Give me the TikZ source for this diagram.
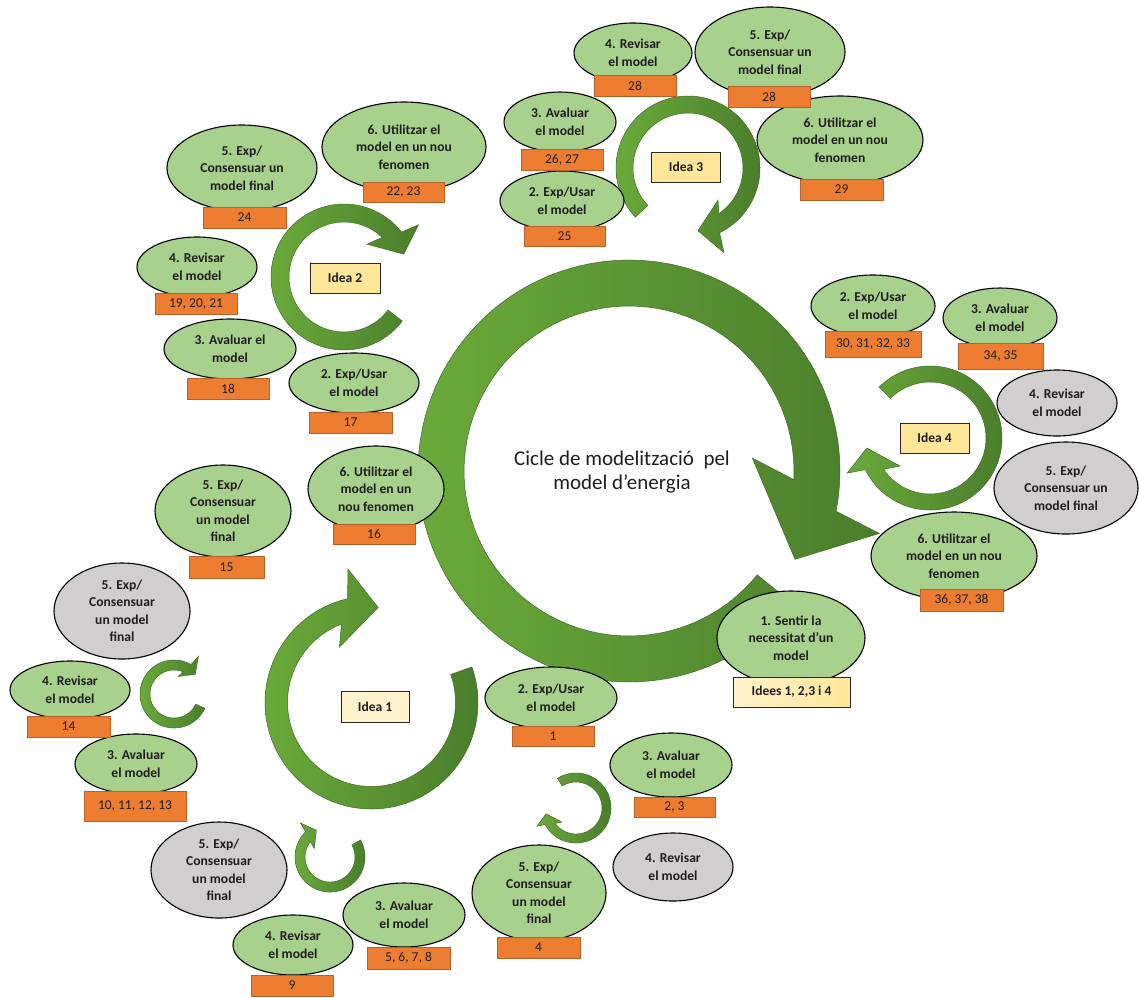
\documentclass[tikz,border=0pt]{standalone}
\usepackage{fontspec}
\setmainfont{Carlito}
\usetikzlibrary{shapes.geometric}
\definecolor{ellgreen}{HTML}{A9D18E}
\definecolor{ellgray}{HTML}{D0CECE}
\definecolor{orangebox}{HTML}{ED7D31}
\definecolor{orangeedge}{HTML}{B5622A}
\definecolor{ideayellow}{HTML}{FFE699}
\definecolor{idealight}{HTML}{FFF2CC}
\definecolor{ringlight}{HTML}{6AAA3A}
\definecolor{ringdark}{HTML}{4A7E2C}
\definecolor{ringedge}{HTML}{3E6A24}
\definecolor{txt}{HTML}{1E1E1E}
% #1 cx, #2 cy, #3 r inner, #4 r outer, #5 tail angle, #6 inner-wing angle, #7 inner wing depth, #8 outer wing extension
\newcommand{\ringarrow}[8]{%
  \path[ringfill] plot[domain=#5:#6+17,samples=90] ({#1+#4*cos(\x)},{#2+#4*sin(\x)})
   -- ({#1+(#4+#8)*cos(#6+20)},{#2+(#4+#8)*sin(#6+20)})
   -- ({#1+(#3+#4)/2*cos(#6+34)},{#2+(#3+#4)/2*sin(#6+34)})
   -- ({#1+(#3-#7)*cos(#6)},{#2+(#3-#7)*sin(#6)})
   -- plot[domain=#6+9:#5,samples=90] ({#1+#3*cos(\x)},{#2+#3*sin(\x)}) -- cycle;}
\begin{document}
\begin{tikzpicture}[x=1pt,y=-1pt,
  ringfill/.style={draw=ringedge,line width=0.5pt,left color=ringlight,right color=ringdark},
  gell/.style={ellipse,draw=black,line width=1.1pt,fill=ellgreen,inner sep=0pt,outer sep=0pt,align=center,text=txt,
    font=\bfseries\fontsize{13.6}{17.5}\selectfont},
  grell/.style={gell,fill=ellgray},
  obox/.style={rectangle,draw=orangeedge,line width=0.8pt,fill=orangebox,inner sep=0pt,text=txt,
    font=\fontsize{13.5}{15}\selectfont},
  ideabox/.style={rectangle,draw=black!85,line width=1pt,fill=ideayellow,inner sep=0pt,text=txt,
    font=\bfseries\fontsize{13.5}{15}\selectfont}]
\useasboundingbox (0,0) rectangle (1139,997);
\fill[white] (0,0) rectangle (1139,997);

% ---------- circular arrows ----------
\ringarrow{629}{471}{165}{211}{39}{354}{41}{47}
\ringarrow{344}{277}{55}{73}{37}{305}{15}{18}
\ringarrow{688}{168}{55}{72}{137}{407}{11}{20}
\ringarrow{930}{438}{56}{72}{225}{497}{15}{18}
\ringarrow{371.5}{702.5}{84}{106.5}{-19.5}{240}{20}{29}
\ringarrow{174}{694}{24}{34}{25}{283}{6}{11}
\ringarrow{330}{857}{25}{35}{-29}{209}{7}{10}
\ringarrow{576}{808}{26}{35}{238}{495}{6}{8}

% ---------- Idea 2 ----------
\node[gell,minimum width=150pt,minimum height=86pt] (e2s5) at (242,168) {5. Exp/\\Consensuar un\\model final};
\node[gell,minimum width=164pt,minimum height=90pt] (e2s6) at (404,147) {6. Utilitzar el\\model en un nou\\fenomen};
\node[gell,minimum width=120pt,minimum height=60pt] (e2s4) at (197,267) {4. Revisar\\el model};
\node[gell,minimum width=132pt,minimum height=60pt] (e2s3) at (230,349) {3. Avaluar el\\model};
\node[gell,minimum width=130pt,minimum height=60pt] (e2s2) at (354,383) {2. Exp/Usar\\el model};

% ---------- Idea 3 ----------
\node[gell,minimum width=118pt,minimum height=60pt] (e3s4) at (633,53) {4. Revisar\\el model};
\node[gell,minimum width=150pt,minimum height=90pt] (e3s5) at (770,52) {5. Exp/\\Consensuar un\\model final};
\node[gell,minimum width=166pt,minimum height=88pt] (e3s6) at (840,140) {6. Utilitzar el\\model en un nou\\fenomen};
\node[gell,minimum width=112pt,minimum height=60pt] (e3s3) at (560,122) {3. Avaluar\\el model};
\node[gell,minimum width=124pt,minimum height=60pt] (e3s2) at (562,201) {2. Exp/Usar\\el model};

% ---------- Idea 4 ----------
\node[gell,minimum width=124pt,minimum height=62pt] (e4s2) at (873,306) {2. Exp/Usar\\el model};
\node[gell,minimum width=114pt,minimum height=60pt] (e4s3) at (1000,318) {3. Avaluar\\el model};
\node[grell,minimum width=120pt,minimum height=66pt] (e4s4) at (1057,403) {4. Revisar\\el model};
\node[grell,minimum width=144pt,minimum height=92pt] (e4s5) at (1066,488) {5. Exp/\\Consensuar un\\model final};
\node[gell,minimum width=166pt,minimum height=88pt] (e4s6) at (954,556) {6. Utilitzar el\\model en un nou\\fenomen};

% ---------- step 1 ----------
\node[gell,minimum width=148pt,minimum height=94pt] (e1) at (791,638) {1. Sentir la\\necessitat d’un\\model};

% ---------- Idea 1 ----------
\node[gell,minimum width=136pt,minimum height=86pt] (e1s6) at (376,489) {6. Utilitzar el\\model en un\\nou fenomen};
\node[gell,minimum width=136pt,minimum height=92pt] (e1s5) at (223,511) {5. Exp/\\Consensuar\\un model\\final};
\node[grell,minimum width=136pt,minimum height=96pt] (e1g5) at (122,611) {5. Exp/\\Consensuar\\un model\\final};
\node[gell,minimum width=120pt,minimum height=58pt] (e1s4) at (70,690) {4. Revisar\\el model};
\node[gell,minimum width=122pt,minimum height=60pt] (e1s3) at (136,764) {3. Avaluar\\el model};
\node[grell,minimum width=136pt,minimum height=96pt] (e1g5b) at (219,870) {5. Exp/\\Consensuar\\un model\\final};
\node[gell,minimum width=120pt,minimum height=60pt] (e1s4b) at (293,945) {4. Revisar\\el model};
\node[gell,minimum width=122pt,minimum height=64pt] (e1s3b) at (404,915) {3. Avaluar\\el model};
\node[gell,minimum width=134pt,minimum height=96pt] (e1s5b) at (539,893) {5. Exp/\\Consensuar\\un model\\final};
\node[gell,minimum width=132pt,minimum height=62pt] (e1s2) at (551,698) {2. Exp/Usar\\el model};
\node[gell,minimum width=122pt,minimum height=64pt] (e1s3c) at (671,765) {3. Avaluar\\el model};
\node[grell,minimum width=120pt,minimum height=68pt] (e1g4c) at (673,867) {4. Revisar\\el model};

% ---------- orange boxes ----------
\node[obox,minimum width=83pt,minimum height=21pt] (b2s5) at (244.5,217.5) {24};
\node[obox,minimum width=81pt,minimum height=20pt] (b2s6) at (403.5,192) {22, 23};
\node[obox,minimum width=82pt,minimum height=21pt] (b2s4) at (196,303.5) {19, 20, 21};
\node[obox,minimum width=82pt,minimum height=21pt] (b2s3) at (228,388.5) {18};
\node[obox,minimum width=83pt,minimum height=21pt] (b2s2) at (350.5,422.5) {17};
\node[obox,minimum width=82pt,minimum height=21pt] (b3s4) at (635,85.5) {28};
\node[obox,minimum width=82pt,minimum height=21pt] (b3s5) at (769,96.5) {28};
\node[obox,minimum width=83pt,minimum height=21pt] (b3s6) at (841.5,189.5) {29};
\node[obox,minimum width=82pt,minimum height=21pt] (b3s3) at (562,159.5) {26, 27};
\node[obox,minimum width=81pt,minimum height=20pt] (b3s2) at (564.5,236) {25};
\node[obox,minimum width=96pt,minimum height=26pt] (b4s2) at (873,344) {30, 31, 32, 33};
\node[obox,minimum width=85pt,minimum height=26pt] (b4s3) at (1000.5,356) {34, 35};
\node[obox,minimum width=83pt,minimum height=22pt] (b4s6) at (961.5,600) {36, 37, 38};
\node[obox,minimum width=82pt,minimum height=20pt] (b1s6) at (374,534) {16};
\node[obox,minimum width=75pt,minimum height=22pt] (b1s5) at (226.5,567) {15};
\node[obox,minimum width=83pt,minimum height=21pt] (b1s4) at (68.5,726.5) {14};
\node[obox,minimum width=102pt,minimum height=30pt] (b1s3) at (135,806) {10, 11, 12, 13};
\node[obox,minimum width=82pt,minimum height=21pt] (b1s4b) at (292,985.5) {9};
\node[obox,minimum width=83pt,minimum height=22pt] (b1s3b) at (408.5,958) {5, 6, 7, 8};
\node[obox,minimum width=83pt,minimum height=21pt] (b1s5b) at (538.5,947.5) {4};
\node[obox,minimum width=82pt,minimum height=20pt] (b1s2) at (553,736) {1};
\node[obox,minimum width=81pt,minimum height=20pt] (b1s3c) at (674.5,807) {2, 3};

% ---------- idea boxes ----------
\node[ideabox,minimum width=70pt,minimum height=30pt] (idea2) at (345,278) {Idea 2};
\node[ideabox,minimum width=69pt,minimum height=30pt] (idea3) at (686,167) {Idea 3};
\node[ideabox,minimum width=69pt,minimum height=30pt] (idea4) at (934.5,438) {Idea 4};
\node[ideabox,fill=idealight,minimum width=68pt,minimum height=31pt] (idea1) at (375,706.5) {Idea 1};
\node[ideabox,left color=idealight,right color=ideayellow,minimum width=117pt,minimum height=30pt] (idees) at (791.5,692) {Idees 1, 2,3 i 4};

% ---------- title ----------
\node[align=center,text=txt,font=\fontsize{21}{24}\selectfont] (title) at (622,472) {Cicle de modelització\ \ pel\\model d’energia};
\end{tikzpicture}
\end{document}
